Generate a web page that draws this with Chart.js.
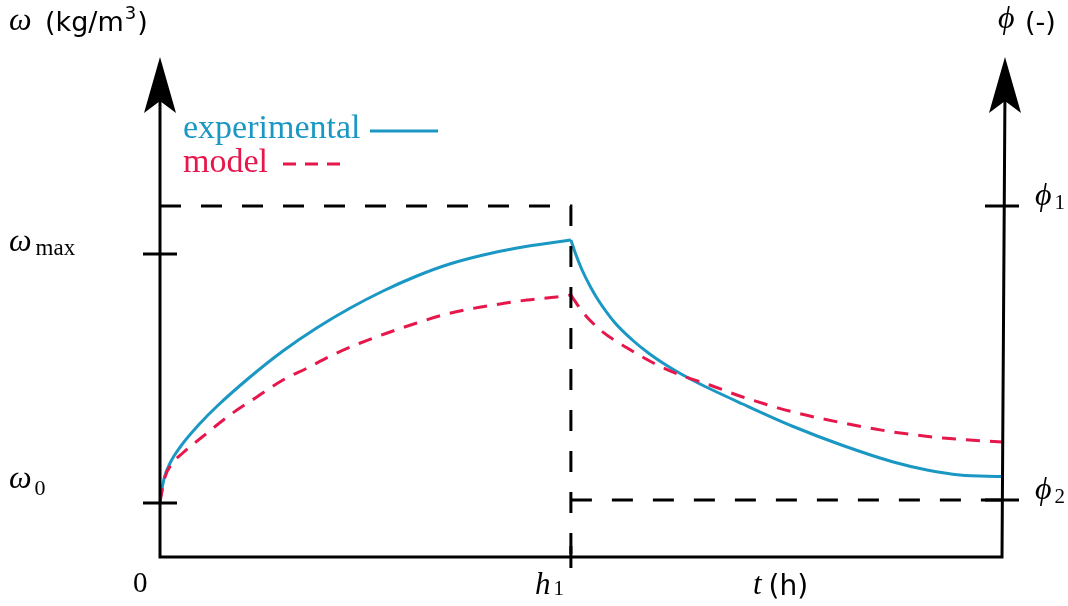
<!DOCTYPE html>
<html>
<head>
<meta charset="utf-8">
<script src="https://cdn.jsdelivr.net/npm/chart.js@4/dist/chart.umd.min.js"></script>
<style>
  html, body { margin: 0; padding: 0; background: #fff; }
  #wrap { width: 1068px; height: 606px; position: relative; }
</style>
</head>
<body>
<div id="wrap"><canvas id="graph" width="1068" height="606"></canvas></div>
<script>
// === DATA === //

// time axis runs 0..10 (arbitrary units), h1 is the switch time
const h1 = 4.88
const tMax = 10

// omega levels (arbitrary units, 0..10)
const omega0 = 1.08
const omegaMax = 6.06
const phi1 = 7.02
const phi2 = 1.14

// experimental curve, before and after h1
const expRiseT = [0, 0.05, 0.12, 0.24, 0.48, 0.68, 1.07, 1.46, 1.86, 2.26, 2.65, 3.05, 3.44, 3.84, 4.24, 4.63, 4.88]
const expRiseW = [1.14, 1.58, 1.88, 2.20, 2.68, 3.02, 3.60, 4.12, 4.58, 4.98, 5.32, 5.62, 5.86, 6.04, 6.18, 6.28, 6.34]
const expFallT = [4.88, 4.93, 5.01, 5.11, 5.20, 5.40, 5.61, 5.80, 6.00, 6.20, 6.39, 6.92, 7.52, 8.11, 8.71, 9.11, 9.50, 10]
const expFallW = [6.34, 6.09, 5.75, 5.41, 5.15, 4.69, 4.34, 4.08, 3.85, 3.65, 3.48, 3.06, 2.61, 2.23, 1.90, 1.74, 1.64, 1.61]

// model curve, before and after h1
const modelRiseT = [0, 0.06, 0.15, 0.27, 0.56, 0.83, 1.15, 1.46, 1.75, 2.05, 2.38, 2.70, 3.05, 3.36, 3.68, 4.04, 4.36, 4.71, 4.88]
const modelRiseW = [1.10, 1.60, 1.88, 2.08, 2.48, 2.84, 3.20, 3.54, 3.78, 4.04, 4.28, 4.48, 4.68, 4.84, 4.96, 5.06, 5.14, 5.20, 5.24]
const modelFallT = [4.88, 5.02, 5.23, 5.55, 5.86, 6.18, 6.53, 6.92, 7.52, 8.11, 8.71, 9.30, 10]
const modelFallW = [5.24, 4.90, 4.54, 4.18, 3.88, 3.64, 3.44, 3.20, 2.90, 2.68, 2.50, 2.38, 2.30]

// === UI === //

const blue = '#1b97c4'
const red = '#e6174b'
const serif = '"Liberation Serif", "DejaVu Serif", serif'
const sans = '"DejaVu Sans", "Liberation Sans", sans-serif'

function toPoints(ts, ws) {
  return ts.map((t, i) => ({ x: t, y: ws[i] }))
}

function curve(ts, ws, color, dash) {
  return {
    data: toPoints(ts, ws),
    borderColor: color,
    borderWidth: 3,
    borderDash: dash,
    pointRadius: 0,
    cubicInterpolationMode: 'monotone',
    fill: false
  }
}

function guide(points) {
  return {
    data: points,
    borderColor: '#000',
    borderWidth: 3,
    borderDash: [21, 20],
    pointRadius: 0,
    tension: 0,
    clip: false,
    fill: false
  }
}

function txt(ctx, s, x, y, font, color) {
  ctx.font = font
  ctx.fillStyle = color || '#000'
  ctx.fillText(s, x, y)
  return x + ctx.measureText(s).width
}

function arrowUp(ctx, x, y) {
  ctx.beginPath()
  ctx.moveTo(x, y)
  ctx.lineTo(x + 16, y + 56)
  ctx.lineTo(x, y + 44)
  ctx.lineTo(x - 16, y + 56)
  ctx.closePath()
  ctx.fill()
}

const axesPlugin = {
  id: 'axes',
  afterDatasetsDraw(chart) {
    const ctx = chart.ctx
    const xs = chart.scales.x
    const ys = chart.scales.y
    const x0 = xs.getPixelForValue(0)
    const x1 = xs.getPixelForValue(tMax)
    const xh = xs.getPixelForValue(h1)
    const yb = ys.getPixelForValue(0)
    const yt = ys.getPixelForValue(10)
    const yW0 = ys.getPixelForValue(omega0)
    const yWm = ys.getPixelForValue(omegaMax)
    const yP1 = ys.getPixelForValue(phi1)
    const yP2 = ys.getPixelForValue(phi2)

    ctx.save()
    ctx.strokeStyle = '#000'
    ctx.fillStyle = '#000'
    ctx.lineWidth = 3
    ctx.setLineDash([])
    ctx.lineCap = 'butt'

    // frame: left axis, bottom axis, right axis (slightly leaning)
    ctx.beginPath()
    ctx.moveTo(x0, yt + 30)
    ctx.lineTo(x0, yb)
    ctx.lineTo(x1, yb)
    ctx.lineTo(x1 + 3, yt + 30)
    ctx.stroke()
    arrowUp(ctx, x0, yt)
    arrowUp(ctx, x1 + 3, yt)

    // ticks
    const tick = (x, y, horiz) => {
      ctx.beginPath()
      if (horiz) { ctx.moveTo(x - 17, y); ctx.lineTo(x + 17, y) }
      else { ctx.moveTo(x, y - 11); ctx.lineTo(x, y + 11) }
      ctx.stroke()
    }
    tick(x0, yW0, true)
    tick(x0, yWm, true)
    tick(x1, yP1, true)
    tick(x1, yP2, true)
    tick(xh, yb, false)

    // labels
    ctx.textBaseline = 'alphabetic'
    let x = txt(ctx, 'ω', 9, 30, 'italic 32px ' + serif)
    x = txt(ctx, '(kg/m', 45, 31, '27px ' + sans)
    x = txt(ctx, '3', x + 1, 19, '18px ' + sans)
    txt(ctx, ')', x + 1, 31, '27px ' + sans)

    x = txt(ctx, 'ϕ', 998, 28, 'italic 32px ' + serif)
    txt(ctx, '(-)', 1025, 31, '27px ' + sans)

    x = txt(ctx, 'ω', 9, yWm - 3, 'italic 32px ' + serif)
    txt(ctx, 'max', x + 4, yWm + 1, '23px ' + serif)
    x = txt(ctx, 'ω', 9, yW0 - 15, 'italic 32px ' + serif)
    txt(ctx, '0', x + 3, yW0 - 8, '22px ' + serif)

    txt(ctx, '0', x0 - 27, yb + 35, '29px ' + serif)
    x = txt(ctx, 'h', xh - 36, yb + 37, 'italic 31px ' + serif)
    txt(ctx, '1', x + 3, yb + 38, '21px ' + serif)
    x = txt(ctx, 't', 753, yb + 37, 'italic 31px ' + serif)
    txt(ctx, '(h)', x + 7, yb + 38, '28px ' + sans)

    x = txt(ctx, 'ϕ', x1 + 33, yP1 - 1, 'italic 32px ' + serif)
    txt(ctx, '1', x + 3, yP1 + 3, '21px ' + serif)
    x = txt(ctx, 'ϕ', x1 + 33, yP2 - 1, 'italic 32px ' + serif)
    txt(ctx, '2', x + 3, yP2 + 3, '21px ' + serif)

    // legend
    txt(ctx, 'experimental', 183, 138, '34px ' + serif, blue)
    ctx.strokeStyle = blue
    ctx.beginPath(); ctx.moveTo(370, 131); ctx.lineTo(438, 131); ctx.stroke()
    txt(ctx, 'model', 183, 172, '34px ' + serif, red)
    ctx.strokeStyle = red
    ctx.setLineDash([13, 9])
    ctx.beginPath(); ctx.moveTo(283, 164); ctx.lineTo(340, 164); ctx.stroke()
    ctx.restore()
  }
}

new Chart(document.getElementById('graph'), {
  type: 'line',
  data: {
    datasets: [
      guide([{ x: 0, y: phi1 }, { x: h1, y: phi1 }, { x: h1, y: -0.3 }]),
      guide([{ x: h1, y: phi2 }, { x: tMax, y: phi2 }]),
      curve(modelRiseT, modelRiseW, red, [14, 10]),
      curve(modelFallT, modelFallW, red, [14, 10]),
      curve(expRiseT, expRiseW, blue, []),
      curve(expFallT, expFallW, blue, [])
    ]
  },
  options: {
    responsive: false,
    animation: false,
    layout: { padding: { left: 160, right: 66, top: 57, bottom: 49 } },
    plugins: { legend: { display: false }, tooltip: { enabled: false } },
    scales: {
      x: { type: 'linear', min: 0, max: tMax, display: false },
      y: { type: 'linear', min: 0, max: 10, display: false }
    }
  },
  plugins: [axesPlugin]
})
</script>
</body>
</html>
